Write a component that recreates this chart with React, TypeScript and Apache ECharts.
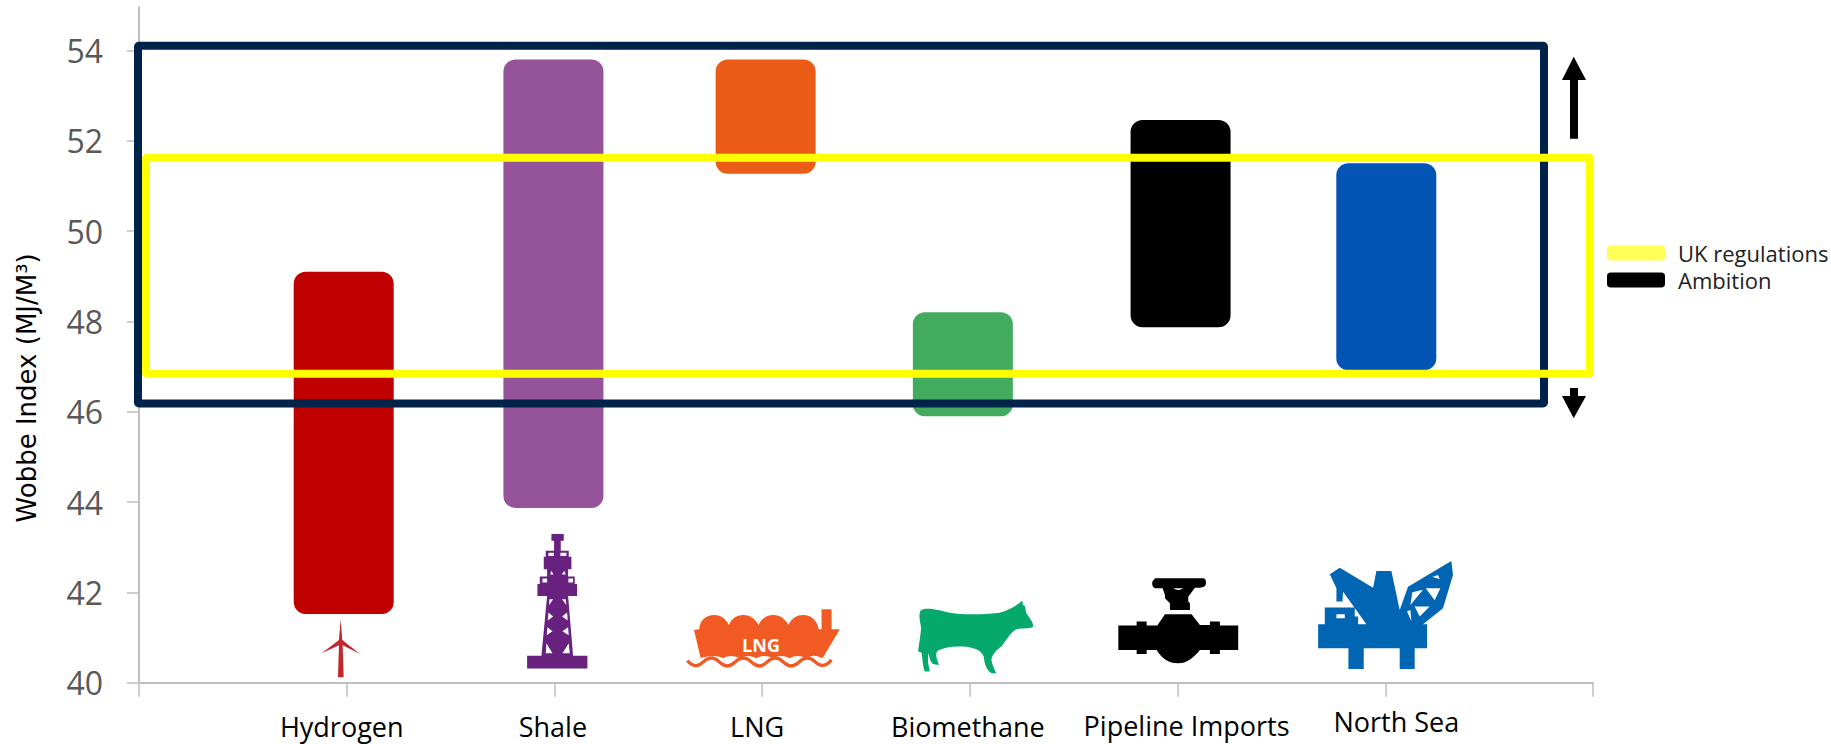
import React, { useEffect, useRef } from "react";
import * as echarts from "echarts";

const categories = ["", "Hydrogen", "Shale", "LNG", "Biomethane", "Pipeline Imports", "North Sea", ""];
const rangeLow = [41.52, 43.87, 51.27, 45.9, 47.87, 46.92];
const rangeHigh = [49.1, 53.8, 53.8, 48.2, 52.46, 51.5];
const barColors = ["#c00000", "#95549a", "#eb5c17", "#43ab5d", "#000000", "#0355b5"];
const barNudgePx = [-3, -1, 3.5, -7, 3, 1];
const yTicks = [40, 42, 44, 46, 48, 50, 52, 54];
const ambitionRange = [46.18, 54.1];
const ukRange = [46.84, 51.62];
const labelPad: number[][] = [
  [],
  [5, 10, 0, 0],
  [5, 3, 0, 0],
  [5, 10, 0, 0],
  [5, 4, 0, 0],
  [4, 0, 0, 18],
  [0, 0, 0, 22],
  [],
];

const shapes: Record<string, string> = {
  turbine: "M92 268 L97 330 L150 372 L98 346 L101 442 L84 442 L87 346 L35 370 L87 330 Z",
  derrick:
    "M725 12 H762 V32 H753 V62 H777 V80 H785 V118 H775 V140 H795 V162 H802 V198 H775 L790 378 H833 V416 H652 V378 H695 L712 198 H683 V162 H690 V140 H712 V118 H702 V80 H708 V62 H733 V32 H725 Z " +
    "M716 68 V78 H732 V68 Z M752 68 V78 H770 V68 Z M698 146 V158 H712 V146 Z M776 146 V158 H790 V146 Z " +
    "M724 122 L722 134 L732 134 Z M764 122 L756 134 L768 134 Z " +
    "M719 208 L718 226 L730 208 Z M768 208 L757 208 L770 226 Z " +
    "M716 248 L714 272 L730 260 Z M772 248 L757 260 L774 272 Z " +
    "M713 292 L711 316 L728 304 Z M775 292 L758 304 L777 316 Z " +
    "M710 340 L708 370 L728 370 Z M777 340 L758 370 L780 370 Z",
  ship:
    "M42 120 L58 118 C58 90 80 75 102 75 C125 75 140 90 147 105 C155 85 170 75 190 75 C212 75 228 90 236 105 C245 85 260 75 280 75 C302 75 318 90 326 105 C335 85 350 75 370 75 C395 75 412 92 417 118 H425 V58 H455 V118 H480 L428 205 C405 194 395 196 380 205 C360 196 345 196 330 205 C310 196 295 196 280 205 C260 196 245 196 230 205 C210 196 195 196 180 205 C160 196 145 196 130 205 C110 196 95 196 62 204 Z",
  wave:
    "M22 212 Q46 240 70 216 Q94 192 118 216 Q142 240 166 216 Q190 192 214 216 Q238 240 262 216 Q286 192 310 216 Q334 240 358 216 Q382 192 406 216 Q430 240 455 210",
  cow:
    "M722 62 C735 50 770 58 810 68 C850 74 900 74 960 68 C985 62 1005 50 1018 40 L1028 32 L1030 45 L1036 48 L1040 70 C1050 85 1062 98 1060 110 C1050 118 1030 112 1010 118 C995 125 980 150 965 170 C945 185 938 195 935 210 C938 225 945 240 950 250 L935 250 C920 240 915 225 912 200 C905 180 880 172 850 170 C820 168 800 170 775 182 C765 192 770 205 778 225 L760 222 C750 215 750 200 745 190 L745 220 C748 232 750 240 750 245 L735 245 C728 225 728 200 725 188 L715 185 C717 165 722 140 724 115 C722 95 715 80 722 62 Z",
  valve:
    "M135 70 H280 Q290 72 288 88 Q285 98 270 98 H255 L235 125 V140 L240 145 V165 H180 V145 L165 130 V120 L158 100 H135 Q125 95 127 80 Z " +
    "M190 100 Q205 110 220 100 Z " +
    "M165 178 H245 L270 210 H300 V200 H330 V212 H385 V285 H330 V297 H300 V285 H270 C250 310 230 325 205 325 C175 325 155 310 140 285 H110 V297 H80 V285 H25 V212 H80 V200 H110 V212 H142 Z",
  rig:
    "M625 208 H952 V280 H915 V342 H870 V280 H762 V342 H716 V280 H625 Z " +
    "M645 158 H735 V185 H745 V208 H645 Z M680 178 V190 H705 V178 Z " +
    "M660 58 L690 38 L790 98 L800 48 H845 L870 165 L895 95 L1025 18 L1030 60 L1000 160 L940 208 V215 H770 V208 L700 110 L698 140 H680 V100 Z " +
    "M968 66 L990 72 L985 60 Z M948 100 L975 136 L992 100 Z M908 112 L902 150 L940 104 Z M915 155 L930 185 L960 155 Z M892 170 L905 198 L902 165 Z",
};
Object.keys(shapes).forEach((k) => {
  echarts.graphic.registerShape(k, echarts.graphic.extendPath(shapes[k], {}) as any);
});

const AXIS = "#bfbfbf";
const OPEN = "'Open Sans', 'Noto Sans', sans-serif";

function icon(type: string, ox: number, oy: number, color: string) {
  return { type, x: ox, y: oy, scaleX: 1 / 3, scaleY: 1 / 3, z: 5, style: { fill: color } };
}

export default function App() {
  const ref = useRef<HTMLDivElement>(null);
  useEffect(() => {
    const chart = echarts.init(ref.current!, undefined, { renderer: "svg" });
    const barData = rangeLow.map((low, i) => [i + 1, low, rangeHigh[i]]);
    const box = (x0: number, x1: number, color: string) => (params: any, api: any) => {
      const top = api.coord([0, api.value(1)])[1];
      const bottom = api.coord([0, api.value(0)])[1];
      return {
        type: "rect",
        shape: { x: x0, y: top, width: x1 - x0, height: bottom - top, r: 1 },
        style: { fill: "none", stroke: color, lineWidth: 8, lineJoin: "round" },
      };
    };
    chart.setOption({
      animation: false,
      backgroundColor: "#ffffff",
      grid: { left: 139, right: 238, top: 7, height: 675.7 },
      legend: {
        orient: "vertical",
        left: 1602,
        top: 237,
        itemWidth: 58,
        itemHeight: 15,
        itemGap: 5,
        icon: "roundRect",
        selectedMode: false,
        textStyle: { fontFamily: OPEN, fontSize: 22, color: "#222222", padding: [0, 0, 0, 8] },
        data: [
          { name: "UK regulations", itemStyle: { color: "#ffff55" } },
          { name: "Ambition", itemStyle: { color: "#000000" } },
        ],
      },
      xAxis: {
        type: "category",
        boundaryGap: false,
        data: categories.map((c, i) => ({
          value: c,
          textStyle: labelPad[i].length ? { padding: labelPad[i] } : {},
        })),
        axisLine: { onZero: false, lineStyle: { color: AXIS, width: 2 } },
        axisTick: { length: 14, alignWithLabel: true, lineStyle: { color: AXIS, width: 1.5 } },
        axisLabel: { interval: 0, margin: 25, fontFamily: OPEN, fontSize: 27, color: "#000000", hideOverlap: false },
      },
      yAxis: {
        type: "value",
        min: 40,
        max: 54.96,
        interval: 2,
        name: "Wobbe Index (MJ/M³)",
        nameLocation: "middle",
        nameRotate: 90,
        nameGap: 99,
        nameTextStyle: { fontFamily: "'DejaVu Sans', sans-serif", fontSize: 26, color: "#000000", padding: [0, 86, 0, 0] },
        splitLine: { show: false },
        axisLine: { show: true, onZero: false, lineStyle: { color: AXIS, width: 2 } },
        axisTick: { show: true, length: 12, customValues: yTicks, lineStyle: { color: AXIS, width: 1.5 } },
        axisLabel: { margin: 36, customValues: yTicks, fontFamily: OPEN, fontSize: 32, color: "#595959" },
      },
      series: [
        {
          type: "custom",
          name: "Wobbe Index",
          z: 2,
          clip: false,
          data: barData,
          encode: { x: 0, y: [1, 2] },
          renderItem: (params: any, api: any) => {
            const i = params.dataIndex;
            const lo = api.coord([api.value(0), api.value(1)]);
            const hi = api.coord([api.value(0), api.value(2)]);
            return {
              type: "rect",
              shape: { x: lo[0] - 50 + barNudgePx[i], y: hi[1], width: 100, height: lo[1] - hi[1], r: 12 },
              style: { fill: barColors[i] },
            };
          },
        },
        {
          type: "custom",
          name: "Ambition",
          z: 3,
          clip: false,
          data: [ambitionRange],
          encode: { y: [0, 1] },
          itemStyle: { color: "#000000" },
          renderItem: box(138, 1544, "#002349"),
        },
        {
          type: "custom",
          name: "UK regulations",
          z: 4,
          clip: false,
          data: [ukRange],
          encode: { y: [0, 1] },
          itemStyle: { color: "#ffff55" },
          renderItem: box(146, 1590, "#ffff00"),
        },
      ],
      graphic: [
        {
          type: "polygon",
          z: 6,
          shape: { points: [[1573.7, 56.7], [1586, 80], [1578, 80], [1578, 138.7], [1570, 138.7], [1570, 80], [1562, 80]] },
          style: { fill: "#000000" },
        },
        {
          type: "polygon",
          z: 6,
          shape: { points: [[1570, 388], [1578, 388], [1578, 396], [1586, 396], [1573.7, 418.3], [1562, 396], [1570, 396]] },
          style: { fill: "#000000" },
        },
        icon("turbine", 310, 530, "#c1272d"),
        icon("derrick", 310, 530, "#68217f"),
        icon("ship", 680, 590, "#f15a22"),
        { type: "wave", x: 680, y: 590, scaleX: 1 / 3, scaleY: 1 / 3, z: 5, style: { fill: "none", stroke: "#f15a22", lineWidth: 10 } },
        {
          type: "text",
          x: 761,
          y: 644.5,
          z: 6,
          style: { text: "LNG", fill: "#ffffff", font: "bold 18px 'Open Sans', sans-serif", align: "center", verticalAlign: "middle" },
        },
        icon("cow", 680, 590, "#05a96b"),
        icon("valve", 1110, 555, "#000000"),
        icon("rig", 1110, 555, "#0066b3"),
      ],
    });
    return () => chart.dispose();
  }, []);
  return <div ref={ref} style={{ position: "fixed", left: 0, top: 0, width: 1831, height: 744 }} />;
}
